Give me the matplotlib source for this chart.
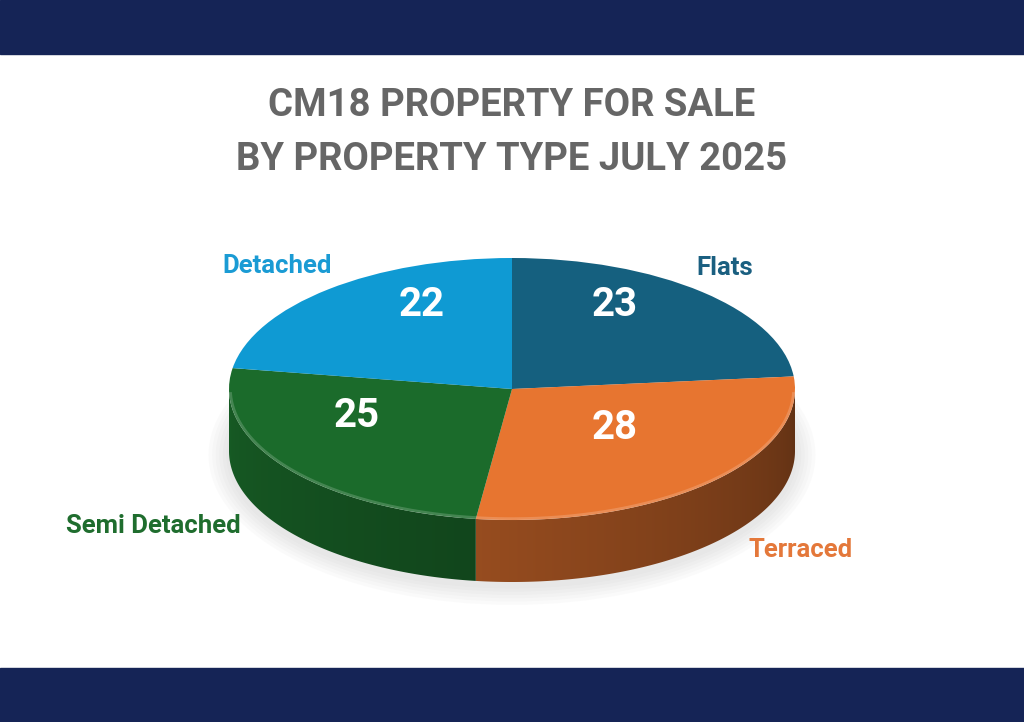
import matplotlib.pyplot as plt
import numpy as np
from matplotlib.patches import Polygon, Ellipse, Rectangle
from matplotlib.colors import to_rgb

# data
categories = ['Flats', 'Terraced', 'Semi Detached', 'Detached']
counts = [23, 28, 25, 22]
colors = ['#15607f', '#e77530', '#1b6b2b', '#0f9ad3']
label_colors = ['#1a5f80', '#e4783a', '#1f6d2e', '#1a9bd4']
title_lines = ['CM18 PROPERTY FOR SALE', 'BY PROPERTY TYPE JULY 2025']

W, H = 1024, 722
font = ['Roboto', 'DejaVu Sans']

fig = plt.figure(figsize=(W / 100, H / 100), dpi=100)
fig.patch.set_facecolor('white')

# navy bands top and bottom
navy = '#152456'
fig.patches.append(Rectangle((0, 1 - 54 / H), 1, 54 / H, transform=fig.transFigure, color=navy, zorder=0))
fig.patches.append(Rectangle((0, 0), 1, 54 / H, transform=fig.transFigure, color=navy, zorder=0))

# title
fig.text(0.5, 1 - 105 / H, title_lines[0], ha='center', va='center', fontsize=27.5,
         fontweight='bold', color='#666666', family=font)
fig.text(0.5, 1 - 160 / H, title_lines[1], ha='center', va='center', fontsize=27.5,
         fontweight='bold', color='#666666', family=font)

# pie geometry (pixels)
cx, cy, a, b, depth = 512, 389, 283, 131, 62
ax = fig.add_axes([(cx - a) / W, (H - (cy + b + depth)) / H, 2 * a / W, (2 * b + depth) / H])
d = depth / b

# soft shadow under the pie
for k in range(6):
    ax.add_patch(Ellipse((0, -d - 0.03), 2.02 + 0.025 * k, 2.04 + 0.05 * k,
                         color='#b0b0b0', alpha=0.05, lw=0, clip_on=False, zorder=0))

# side walls of the 3d pie, only the front half is visible
total = sum(counts)
bounds = 90 - 360 * np.cumsum([0] + counts) / total
xs = np.linspace(-1, 1, 400)
shade = 0.85 - 0.43 * (180 - np.degrees(np.arccos(xs))) / 180
for i, c in enumerate(colors):
    hi = min(bounds[i], 0)
    lo = max(bounds[i + 1], -180)
    if lo >= hi:
        continue
    ts = np.radians(np.linspace(lo, hi, 200))
    pts = np.column_stack([np.r_[np.cos(ts), np.cos(ts[::-1])],
                           np.r_[np.sin(ts), np.sin(ts[::-1]) - d]])
    poly = Polygon(pts, closed=True, facecolor='none', edgecolor='none')
    ax.add_patch(poly)
    img = np.clip(np.array(to_rgb(c))[None, None, :] * shade[None, :, None], 0, 1)
    im = ax.imshow(np.repeat(img, 2, axis=0), extent=[-1, 1, -1 - d, 1], origin='lower',
                   interpolation='bilinear', zorder=1)
    im.set_clip_path(poly)

# top face
wedges, _ = ax.pie(counts, colors=colors, startangle=90, counterclock=False, radius=1,
                   wedgeprops={'linewidth': 0})
for w in wedges:
    w.set_zorder(2)

# bevel highlight along the front rim
tt = np.radians(np.linspace(-178, -2, 300))
ax.plot(np.cos(tt) * 0.995, np.sin(tt) * 0.99, color='white', alpha=0.18, lw=2, zorder=3)

ax.set_aspect('auto')
ax.set_xlim(-1, 1)
ax.set_ylim(-1 - d, 1)
ax.axis('off')

# values on slices
value_pos = [(0.364, 0.641), (0.364, -0.298), (-0.548, -0.206), (-0.318, 0.641)]
for (x, y), v in zip(value_pos, counts):
    ax.text(x, y, str(v), ha='center', va='center', fontsize=29, fontweight='bold',
            color='white', family=font, zorder=4)

# category labels outside the pie
label_pos = [(725, 268), (801, 550), (153, 526), (277, 266)]
for (px, py), name, lc in zip(label_pos, categories, label_colors):
    fig.text(px / W, 1 - py / H, name, ha='center', va='center', fontsize=18.5,
             fontweight='bold', color=lc, family=font)

fig.savefig('out.png', dpi=100, facecolor='white')
